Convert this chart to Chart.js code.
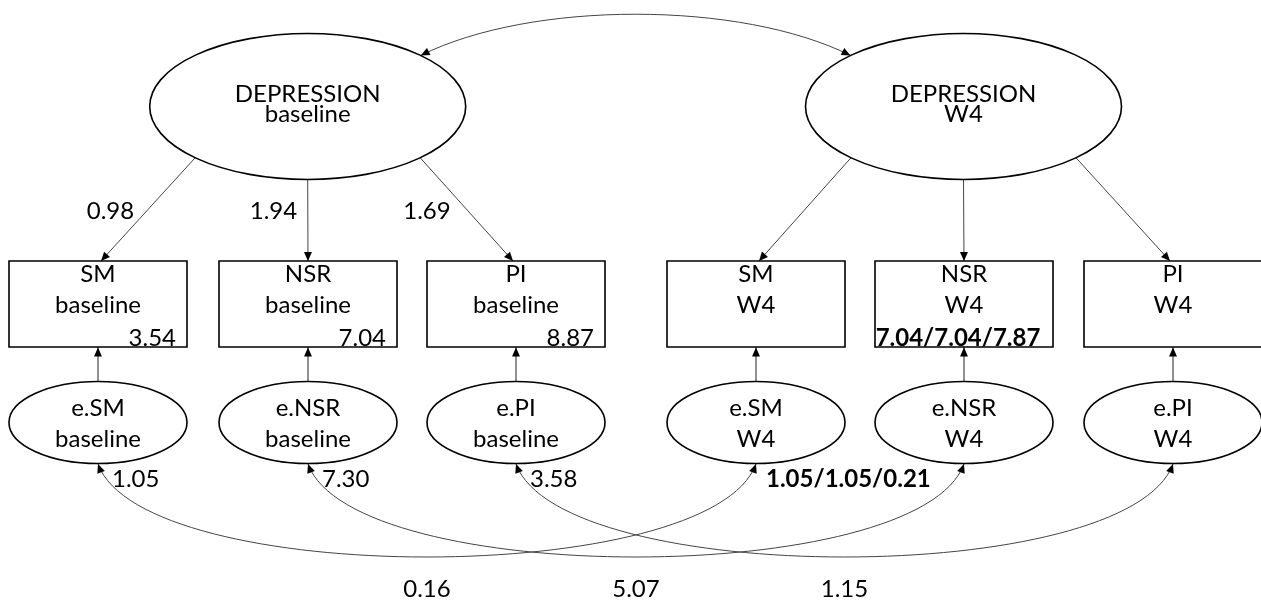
<!DOCTYPE html>
<html><head><meta charset="utf-8">
<script src="https://cdn.jsdelivr.net/npm/chart.js@4"></script>
<style>html,body{margin:0;padding:0;background:#fff}#wrap{width:1261px;height:603px;position:relative}</style>
</head><body><div id="wrap"><canvas id="c"></canvas></div>
<script>
// ---------------- data ----------------
const latentNames = ['DEPRESSION', 'DEPRESSION'];
const waves = ['baseline', 'W4'];
const indicators = ['SM', 'NSR', 'PI'];
const residualNames = ['e.SM', 'e.NSR', 'e.PI'];
const loadingsBaseline = ['0.98', '1.94', '1.69'];
const loadingsW4 = ['', '', ''];
const interceptsBaseline = ['3.54', '7.04', '8.87'];
const interceptsW4 = ['', '7.04/7.04/7.87', ''];
const residualVarBaseline = ['1.05', '7.30', '3.58'];
const residualVarW4 = ['1.05/1.05/0.21', '', ''];
const residualCovariances = ['0.16', '5.07', '1.15'];

// ---------------- layout (diagram geometry in axis units) ----------------
const layout = {
  latentX: [307.7, 963.5], latentY: 106.5, latentRx: 158, latentRy: 73,
  colX: [[98, 308, 516], [756, 964, 1173]],
  boxW: 178, boxTop: 261, boxBot: 347,
  resY: 422.5, resRx: 89, resRy: 41,
  loadStartDx: [-112.5, 0, 112.5], loadEndDx: [3, 0, -3],
  loadLabelDx: [12.5, -34.5, -89], loadLabelY: 219,
  covTopDx: 113, covTopLift: 55, covTopSpread: 110,
  covBotDrop: 124, covBotSpread: 45
};
const FONT = 'Lato, "Noto Sans", sans-serif';

function drawDiagram(chart) {
  const ctx = chart.ctx;
  const xs = chart.scales.x, ys = chart.scales.y;
  const X = v => xs.getPixelForValue(v);
  const Y = v => ys.getPixelForValue(v);
  const W = d => xs.getPixelForValue(d) - xs.getPixelForValue(0);
  const H = d => ys.getPixelForValue(d) - ys.getPixelForValue(0);
  const L = layout;

  function arrowHead(tx, ty, fx, fy) {
    const a = Math.atan2(ty - fy, tx - fx);
    const len = 9, hw = 4;
    ctx.save();
    ctx.fillStyle = '#000';
    ctx.beginPath();
    ctx.moveTo(tx, ty);
    ctx.lineTo(tx - len * Math.cos(a) + hw * Math.sin(a), ty - len * Math.sin(a) - hw * Math.cos(a));
    ctx.lineTo(tx - len * Math.cos(a) - hw * Math.sin(a), ty - len * Math.sin(a) + hw * Math.cos(a));
    ctx.closePath();
    ctx.fill();
    ctx.restore();
  }
  function ellipseYOffset(dx, rx, ry) {
    const t = Math.max(0, 1 - (dx * dx) / (rx * rx));
    return ry * Math.sqrt(t);
  }
  function text(str, x, y, align, bold) {
    ctx.save();
    ctx.fillStyle = '#000';
    ctx.font = (bold ? 'bold ' : '') + '24px ' + FONT;
    ctx.textAlign = align || 'center';
    ctx.textBaseline = 'alphabetic';
    ctx.fillText(str, X(x), Y(y));
    ctx.restore();
  }

  ctx.save();
  ctx.lineCap = 'butt';

  // --- covariance between latent factors (top, double-headed) ---
  {
    const dy = ellipseYOffset(L.covTopDx, L.latentRx, L.latentRy);
    const x0 = L.latentX[0] + L.covTopDx, x1 = L.latentX[1] - L.covTopDx;
    const y0 = L.latentY - dy;
    const c1x = x0 + L.covTopSpread, c2x = x1 - L.covTopSpread, cy = y0 - L.covTopLift;
    ctx.strokeStyle = '#444'; ctx.lineWidth = 1;
    ctx.beginPath();
    ctx.moveTo(X(x0), Y(y0));
    ctx.bezierCurveTo(X(c1x), Y(cy), X(c2x), Y(cy), X(x1), Y(y0));
    ctx.stroke();
    arrowHead(X(x0), Y(y0), X(c1x), Y(cy));
    arrowHead(X(x1), Y(y0), X(c2x), Y(cy));
  }

  // --- residual covariances (bottom, double-headed) ---
  const resBottom = L.resY + L.resRy + 0.5;
  for (let i = 0; i < 3; i++) {
    const x0 = L.colX[0][i], x1 = L.colX[1][i];
    const cy = resBottom + L.covBotDrop;
    const c1x = x0 + L.covBotSpread, c2x = x1 - L.covBotSpread;
    ctx.strokeStyle = '#444'; ctx.lineWidth = 1;
    ctx.beginPath();
    ctx.moveTo(X(x0), Y(resBottom));
    ctx.bezierCurveTo(X(c1x), Y(cy), X(c2x), Y(cy), X(x1), Y(resBottom));
    ctx.stroke();
    arrowHead(X(x0), Y(resBottom), X(c1x), Y(cy));
    arrowHead(X(x1), Y(resBottom), X(c2x), Y(cy));
    text(residualCovariances[i], (x0 + x1) / 2, 597, 'center', false);
  }

  // --- loadings: latent -> indicators ---
  for (let w = 0; w < 2; w++) {
    for (let i = 0; i < 3; i++) {
      const sx = L.latentX[w] + L.loadStartDx[i];
      const sy = L.latentY + ellipseYOffset(L.loadStartDx[i], L.latentRx, L.latentRy);
      const ex = L.colX[w][i] + L.loadEndDx[i], ey = L.boxTop;
      ctx.strokeStyle = '#444'; ctx.lineWidth = 1;
      ctx.beginPath(); ctx.moveTo(X(sx), Y(sy)); ctx.lineTo(X(ex), Y(ey)); ctx.stroke();
      arrowHead(X(ex), Y(ey), X(sx), Y(sy));
      const lab = (w === 0 ? loadingsBaseline : loadingsW4)[i];
      if (lab) text(lab, L.colX[w][i] + L.loadLabelDx[i], L.loadLabelY, 'center', false);
    }
  }

  // --- residual -> indicator arrows ---
  for (let w = 0; w < 2; w++) {
    for (let i = 0; i < 3; i++) {
      const x = L.colX[w][i];
      ctx.strokeStyle = '#222'; ctx.lineWidth = 1;
      ctx.beginPath(); ctx.moveTo(X(x), Y(L.resY - L.resRy)); ctx.lineTo(X(x), Y(L.boxBot)); ctx.stroke();
      arrowHead(X(x), Y(L.boxBot + 0.5), X(x), Y(L.resY - L.resRy));
    }
  }

  // --- latent ellipses ---
  for (let w = 0; w < 2; w++) {
    ctx.fillStyle = '#fff'; ctx.strokeStyle = '#000'; ctx.lineWidth = 1.6;
    ctx.beginPath();
    ctx.ellipse(X(L.latentX[w]), Y(L.latentY), Math.abs(W(L.latentRx)), Math.abs(H(L.latentRy)), 0, 0, Math.PI * 2);
    ctx.fill(); ctx.stroke();
    text(latentNames[w], L.latentX[w], 101.7, 'center', false);
    text(waves[w], L.latentX[w], 122, 'center', false);
  }

  // --- indicator boxes ---
  for (let w = 0; w < 2; w++) {
    for (let i = 0; i < 3; i++) {
      const cx = L.colX[w][i];
      const l = cx - L.boxW / 2, r = cx + L.boxW / 2;
      ctx.fillStyle = '#fff'; ctx.strokeStyle = '#000'; ctx.lineWidth = 1.6;
      ctx.beginPath();
      ctx.rect(X(l), Y(L.boxTop), X(r) - X(l), Y(L.boxBot) - Y(L.boxTop));
      ctx.fill(); ctx.stroke();
      text(indicators[i], cx, 281.7, 'center', false);
      text(waves[w], cx, 313.3, 'center', false);
      if (w === 0) text(interceptsBaseline[i], r - 11, 346, 'right', false);
      else if (interceptsW4[i]) text(interceptsW4[i], cx - 6, 346, 'center', true);
    }
  }

  // --- residual ellipses ---
  for (let w = 0; w < 2; w++) {
    for (let i = 0; i < 3; i++) {
      const cx = L.colX[w][i];
      ctx.fillStyle = '#fff'; ctx.strokeStyle = '#000'; ctx.lineWidth = 1.6;
      ctx.beginPath();
      ctx.ellipse(X(cx), Y(L.resY), Math.abs(W(L.resRx)), Math.abs(H(L.resRy)), 0, 0, Math.PI * 2);
      ctx.fill(); ctx.stroke();
      text(residualNames[i], cx, 415.7, 'center', false);
      text(waves[w], cx, 446.7, 'center', false);
      if (w === 0) text(residualVarBaseline[i], cx + 14, 487, 'left', false);
      else if (residualVarW4[i]) text(residualVarW4[i], cx + 10, 487, 'left', true);
    }
  }
  ctx.restore();
}

const nodePoints = [];
layout.colX.forEach(col => col.forEach(x => { nodePoints.push({x, y: layout.boxTop}); nodePoints.push({x, y: layout.resY}); }));
layout.latentX.forEach(x => nodePoints.push({x, y: layout.latentY}));

new Chart(document.getElementById('c'), {
  type: 'scatter',
  data: { datasets: [{ data: nodePoints, pointRadius: 0, pointHoverRadius: 0 }] },
  options: {
    responsive: true, maintainAspectRatio: false, animation: false,
    layout: { padding: 0 },
    plugins: { legend: { display: false }, tooltip: { enabled: false }, title: { display: false } },
    events: [],
    scales: {
      x: { type: 'linear', min: 0, max: 1261, display: false },
      y: { type: 'linear', min: 0, max: 603, reverse: true, display: false }
    }
  },
  plugins: [{ id: 'semDiagram', afterDatasetsDraw: drawDiagram }]
});
</script>
</body></html>
